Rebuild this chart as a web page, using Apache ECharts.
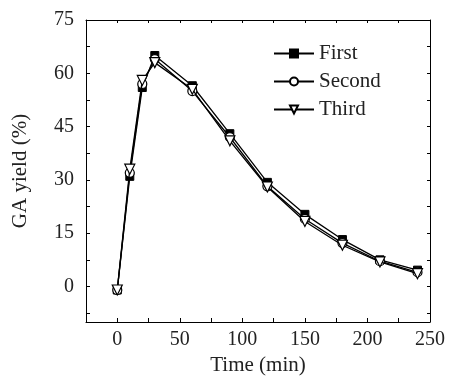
<!DOCTYPE html>
<html>
<head>
<meta charset="utf-8">
<script src="https://cdn.jsdelivr.net/npm/echarts@6/dist/echarts.min.js"></script>
<style>
  html, body { margin: 0; padding: 0; background: #fff; }
  #chart { width: 450px; height: 387px; }
</style>
</head>
<body>
<div id="chart"></div>
<script>
// sampling times (min)
const times = [0, 10, 20, 30, 60, 90, 120, 150, 180, 210, 240];
// GA yield (%) for each run
const first  = [-1, 31, 56, 65, 56.5, 43, 29.3, 20.3, 13.2, 7.5, 4.6];
const second = [-1, 32, 57, 64, 55, 42, 28.2, 19, 12.2, 7.1, 4.0];
const third  = [-1, 33, 58, 63, 55.5, 41, 28, 18.3, 11.6, 6.9, 3.6];

const yLabels = [0, 15, 30, 45, 60, 75];
const yTicks = [-7.5, 0, 7.5, 15, 22.5, 30, 37.5, 45, 52.5, 60, 67.5, 75];

const font = 'Liberation Serif';
const ink = '#222';

const chart = echarts.init(document.getElementById('chart'));

const pairs = arr => times.map((t, i) => [t, arr[i]]);

const baseSeries = {
  type: 'line',
  symbolSize: 9,
  lineStyle: { color: '#000', width: 1.3 },
  emphasis: { disabled: true }
};

let options = {
  animation: false,
  textStyle: { fontFamily: font, color: ink },
  grid: { left: 86, right: 20, top: 20, bottom: 65 },
  legend: {
    left: 268,
    top: 38,
    orient: 'vertical',
    itemWidth: 40,
    itemHeight: 10,
    itemGap: 7,
    textStyle: { fontFamily: font, fontSize: 21, color: ink },
    data: ['First', 'Second', 'Third']
  },
  xAxis: [{
    type: 'value',
    min: -25,
    max: 250,
    interval: 25,
    name: 'Time (min)',
    nameLocation: 'middle',
    nameGap: 33,
    nameTextStyle: { fontFamily: font, fontSize: 21, color: ink },
    axisLine: { onZero: false, lineStyle: { color: '#000', width: 1 } },
    axisTick: { inside: true, length: 4, lineStyle: { color: '#000' } },
    axisLabel: {
      fontFamily: font, fontSize: 20, color: ink, margin: 8,
      formatter: v => (v % 50 === 0 ? String(v) : '')
    },
    splitLine: { show: false }
  }, {
    type: 'value',
    position: 'top',
    min: -25,
    max: 250,
    interval: 25,
    axisLine: { onZero: false, lineStyle: { color: '#000', width: 1 } },
    axisTick: { inside: true, length: 3, lineStyle: { color: '#000' } },
    axisLabel: { show: false },
    splitLine: { show: false }
  }],
  yAxis: [{
    type: 'value',
    min: -10,
    max: 75,
    name: 'GA yield (%)',
    nameLocation: 'middle',
    nameGap: 55,
    nameTextStyle: { fontFamily: font, fontSize: 21, color: ink },
    axisLine: { show: true, onZero: false, lineStyle: { color: '#000', width: 1 } },
    axisTick: { show: true, inside: true, length: 4, customValues: yTicks, lineStyle: { color: '#000' } },
    axisLabel: { fontFamily: font, fontSize: 20, color: ink, margin: 12, customValues: yLabels },
    splitLine: { show: false }
  }, {
    type: 'value',
    position: 'right',
    min: -10,
    max: 75,
    axisLine: { show: true, onZero: false, lineStyle: { color: '#000', width: 1 } },
    axisTick: { show: true, inside: true, length: 3, customValues: yTicks, lineStyle: { color: '#000' } },
    axisLabel: { show: false },
    splitLine: { show: false }
  }],
  series: [
    Object.assign({}, baseSeries, {
      name: 'First',
      symbol: 'rect',
      symbolSize: 8,
      z: 2,
      itemStyle: { color: '#000', borderColor: '#000', borderWidth: 1 },
      data: pairs(first)
    }),
    Object.assign({}, baseSeries, {
      name: 'Second',
      symbol: 'circle',
      z: 3,
      itemStyle: { color: '#fff', borderColor: '#000', borderWidth: 1.2 },
      data: pairs(second)
    }),
    Object.assign({}, baseSeries, {
      name: 'Third',
      symbol: 'triangle',
      symbolRotate: 180,
      symbolSize: 10,
      z: 4,
      itemStyle: { color: '#fff', borderColor: '#000', borderWidth: 1.2 },
      data: pairs(third)
    })
  ]
};

chart.setOption(options);
</script>
</body>
</html>
